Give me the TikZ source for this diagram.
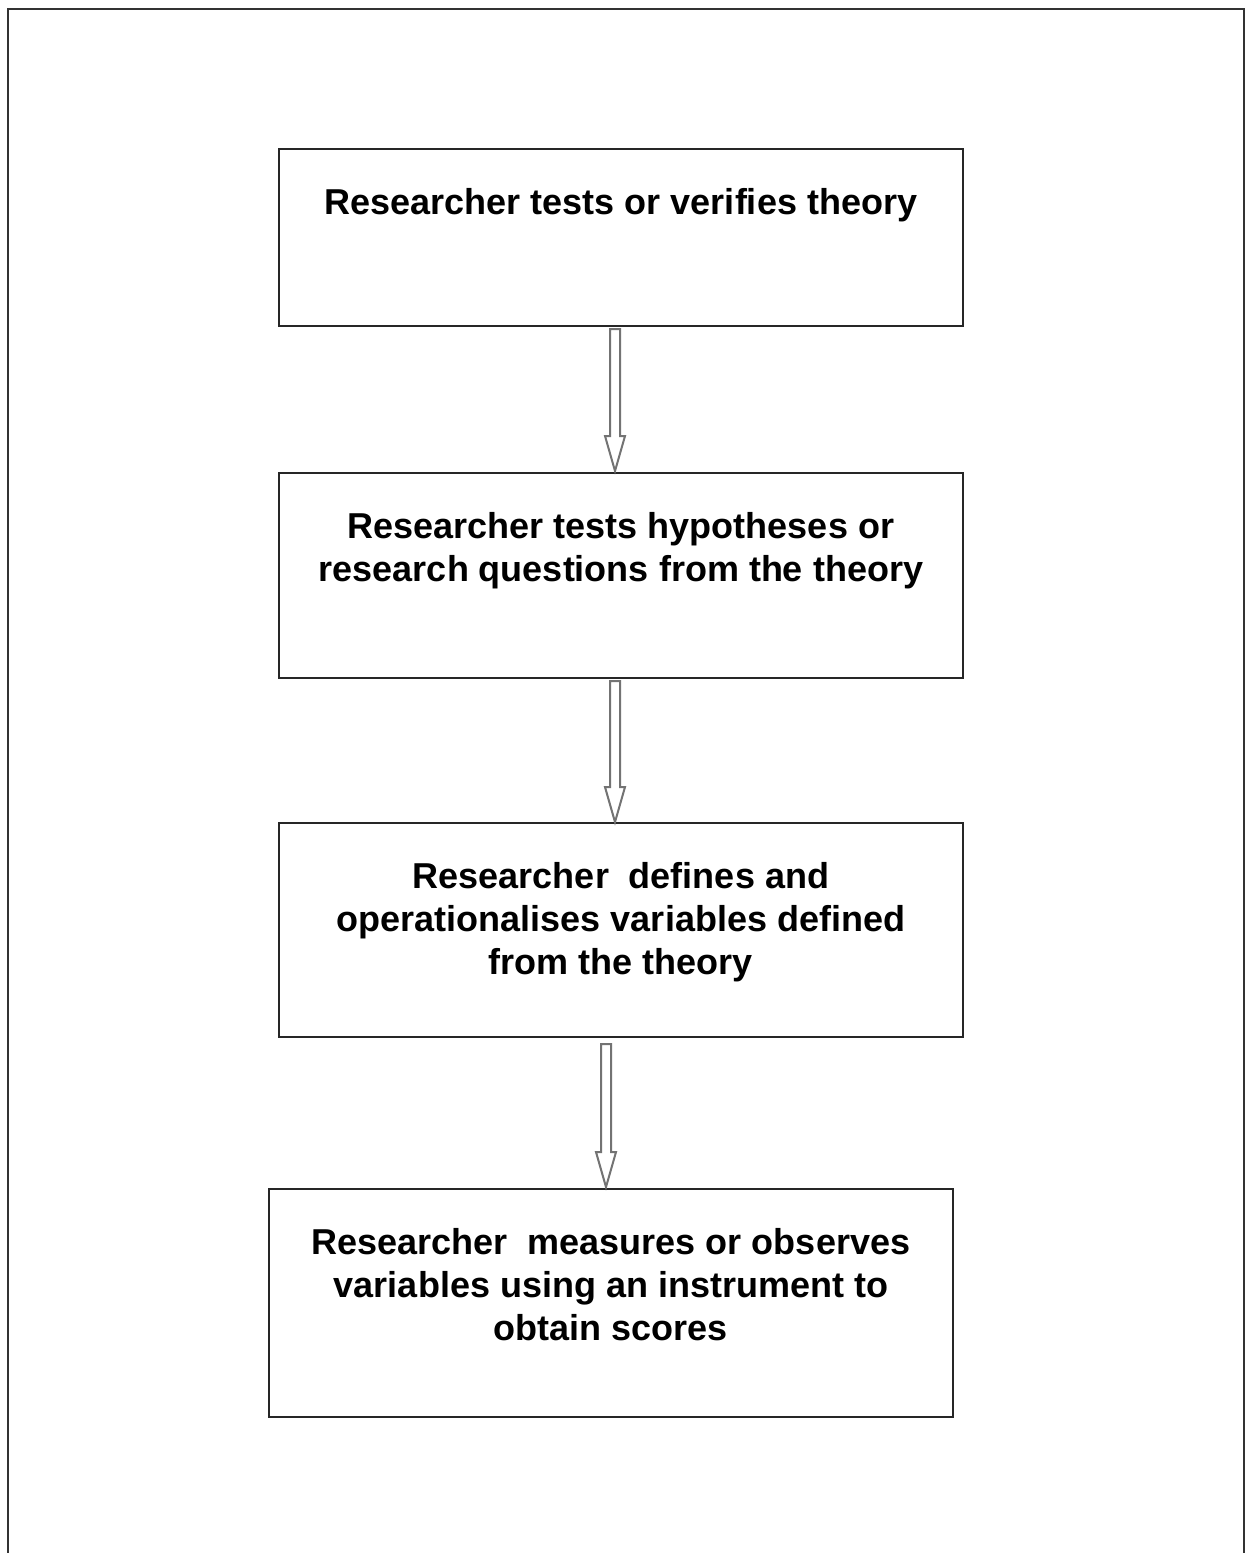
\documentclass[tikz,border=0pt]{standalone}
\usepackage{fontspec}
\setmainfont{Liberation Sans}
\usetikzlibrary{calc}

\tikzset{
  stepbox/.style={draw=black!85, line width=1pt, inner sep=0pt, minimum width=342pt},
  steptext/.style={anchor=north, inner sep=0pt, align=center,
    font=\fontsize{18pt}{21.5pt}\selectfont\bfseries},
  blockarrow/.style={draw=black!55, line width=1pt, fill=white, line join=miter},
  frame/.style={draw=black!80, line width=1.2pt}
}

% hollow downward block arrow from #1 to #2 (shaft half-width, head half-width, head length)
\newcommand\hollowarrow[2]{%
  \path[blockarrow] let \p1=(#1), \p2=(#2) in
    (\x1-2.5pt,\y1) -- (\x1+2.5pt,\y1) -- (\x1+2.5pt,\y2+17.5pt)
    -- (\x1+5pt,\y2+17.5pt) -- (\x1,\y2) -- (\x1-5pt,\y2+17.5pt)
    -- (\x1-2.5pt,\y2+17.5pt) -- cycle;}

\begin{document}
\begin{tikzpicture}[x=0.5pt, y=-0.5pt]
  \useasboundingbox (0,0) rectangle (1245,1553);
  \fill[white] (0,0) rectangle (1245,1553);

  % page frame, open at the bottom
  \draw[frame] (8,1560) -- (8,9) -- (1244,9) -- (1244,1560);

  % steps
  \node[stepbox, minimum height=88.5pt]  (b1) at (621,237.5) {};
  \node[stepbox, minimum height=102.5pt] (b2) at (621,575.5) {};
  \node[stepbox, minimum height=107pt]   (b3) at (621,930)   {};
  \node[stepbox, minimum height=114pt]   (b4) at (611,1303)  {};

  \node[steptext] (t1) at ($(b1.north)+(0,40)$) {Researcher tests or verifies theory};
  \node[steptext] (t2) at ($(b2.north)+(0,40)$) {Researcher tests hypotheses or\\research questions from the theory};
  \node[steptext] (t3) at ($(b3.north)+(0,40)$) {Researcher\ \ defines and\\operationalises variables defined\\from the theory};
  \node[steptext] (t4) at ($(b4.north)+(0,40)$) {Researcher\ \ measures or observes\\variables using an instrument to\\obtain scores};

  % connectors
  \coordinate (a1s) at ($(b1.south)+(-6,2)$);
  \coordinate (a1e) at ($(b2.north)+(-6,-1)$);
  \coordinate (a2s) at ($(b2.south)+(-6,2)$);
  \coordinate (a2e) at ($(b3.north)+(-6,0)$);
  \coordinate (a3s) at ($(b3.south)+(-15,6)$);
  \coordinate (a3e) at ($(b4.north)+(-5,-1)$);
  \hollowarrow{a1s}{a1e}
  \hollowarrow{a2s}{a2e}
  \hollowarrow{a3s}{a3e}
\end{tikzpicture}
\end{document}
